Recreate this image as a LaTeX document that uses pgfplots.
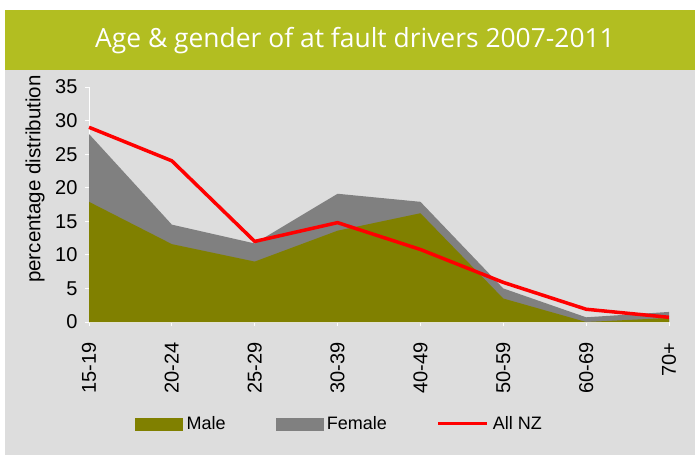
\documentclass[border=0pt]{standalone}
\usepackage{fontspec}
\setmainfont{Liberation Sans}
\newfontfamily\titlefont{Open Sans}
\usepackage{pgfplots}
\pgfplotsset{compat=1.18}
\definecolor{banner}{HTML}{B2BE21}
\definecolor{bg}{HTML}{DDDDDD}
\definecolor{male}{HTML}{808000}
\definecolor{female}{HTML}{808080}
\begin{document}
\begin{tikzpicture}[x=1pt,y=1pt]
\useasboundingbox (0,0) rectangle (695,455);
\fill[white] (0,0) rectangle (695,455);
\fill[bg] (5,0) rectangle (695,385);
\fill[banner] (5,385) rectangle (695,445);
\node[text=white, font=\titlefont\fontsize{26.4}{31}\selectfont] at (355,414) {Age \& gender of at fault drivers 2007-2011};
\begin{axis}[
  at={(89pt,133pt)}, anchor=south west,
  scale only axis, width=580pt, height=235pt,
  xmin=0, xmax=7, ymin=0, ymax=35,
  axis x line=bottom, axis y line=left,
  axis line style={-, white, line width=1pt},
  tick style={white, line width=1pt},
  tick align=outside, major tick length=4pt,
  xtick={0,1,2,3,4,5,6,7},
  xticklabels={15-19,20-24,25-29,30-39,40-49,50-59,60-69,70+},
  ytick={0,5,10,15,20,25,30,35},
  xticklabel style={rotate=90, anchor=east, xshift=-13pt, font=\fontsize{20}{24}\selectfont},
  yticklabel style={xshift=-4pt, font=\fontsize{20}{24}\selectfont},
  /pgf/number format/assume math mode=true,
  ylabel={percentage distribution},
  ylabel style={at={(axis description cs:-0.0931,0.608)}, anchor=center, font=\fontsize{20.5}{24}\selectfont},
  clip=false,
  legend columns=3,
  legend style={at={(0.432,-0.434)}, anchor=center, draw=none, fill=none,
    font=\fontsize{18}{22}\selectfont, column sep=0pt,
    /tikz/every even column/.append style={column sep=48pt},
    /tikz/every odd column/.append style={column sep=2pt}},
  legend cell align=left,
]
% total (male + female)
\addplot[fill=female, draw=none, forget plot] coordinates {
 (0,28.0) (1,14.5) (2,11.7) (3,19.1) (4,17.9) (5,5.0) (6,0.7) (7,1.5)} \closedcycle;
% male
\addplot[fill=male, draw=none, forget plot] coordinates {
 (0,17.9) (1,11.6) (2,9.0) (3,13.6) (4,16.2) (5,3.5) (6,0.0) (7,0.6)} \closedcycle;
% All NZ
\addplot[red, line width=3.5pt, forget plot] coordinates {
 (0,29.0) (1,24.0) (2,12.0) (3,14.8) (4,10.8) (5,5.9) (6,1.9) (7,0.7)};
\addlegendimage{legend image code/.code={\fill[male] (0pt,-6pt) rectangle (47pt,6pt);}}
\addlegendentry{Male}
\addlegendimage{legend image code/.code={\fill[female] (0pt,-6pt) rectangle (47pt,6pt);}}
\addlegendentry{Female}
\addlegendimage{legend image code/.code={\draw[red, line width=3pt] (0pt,0pt) -- (49pt,0pt);}}
\addlegendentry{All NZ}
\end{axis}
\end{tikzpicture}
\end{document}
